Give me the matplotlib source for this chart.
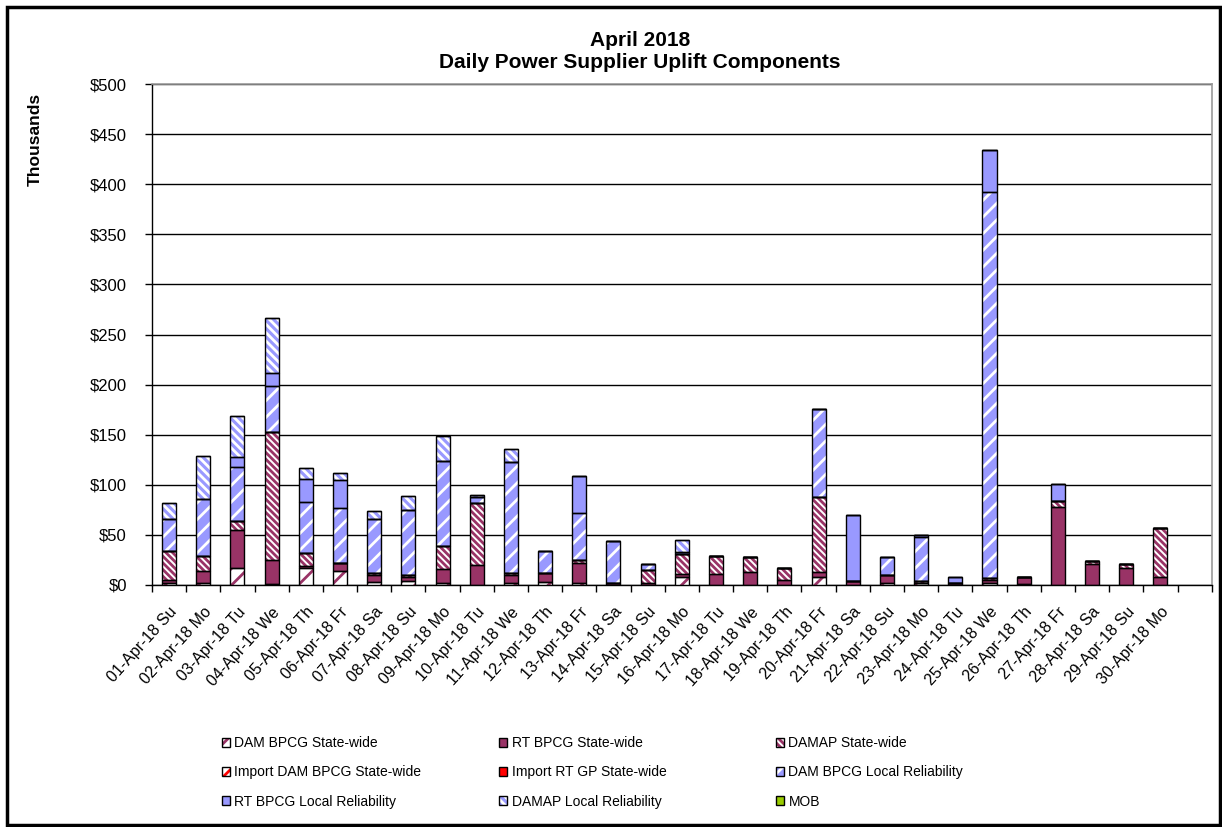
import numpy as np
import matplotlib
matplotlib.use("Agg")
import matplotlib.pyplot as plt
from matplotlib.patches import Rectangle

plt.rcParams['font.family'] = ['Liberation Sans', 'DejaVu Sans']
plt.rcParams['hatch.linewidth'] = 2.0

days = ["01-Apr-18 Su", "02-Apr-18 Mo", "03-Apr-18 Tu", "04-Apr-18 We", "05-Apr-18 Th",
        "06-Apr-18 Fr", "07-Apr-18 Sa", "08-Apr-18 Su", "09-Apr-18 Mo", "10-Apr-18 Tu",
        "11-Apr-18 We", "12-Apr-18 Th", "13-Apr-18 Fr", "14-Apr-18 Sa", "15-Apr-18 Su",
        "16-Apr-18 Mo", "17-Apr-18 Tu", "18-Apr-18 We", "19-Apr-18 Th", "20-Apr-18 Fr",
        "21-Apr-18 Sa", "22-Apr-18 Su", "23-Apr-18 Mo", "24-Apr-18 Tu", "25-Apr-18 We",
        "26-Apr-18 Th", "27-Apr-18 Fr", "28-Apr-18 Sa", "29-Apr-18 Su", "30-Apr-18 Mo"]

# values in $ thousands
dam_bpcg_sw = [2, 2.3, 17, 1, 16.7, 14.3, 3.3, 4, 2, 0, 2, 3.3, 2.3, 0, 0,
               7.7, 0, 0, 0, 8.3, 0, 2.3, 1.5, 0, 2, 1, 0, 0, 0, 0]
rt_bpcg_sw = [3, 12, 38, 24, 2.3, 7.4, 6.7, 4, 13.7, 20, 8, 8.4, 20, 2.3, 2.3,
              3, 11, 13, 5, 5, 4, 7.7, 0, 2.3, 3, 6.7, 77.7, 20.7, 16.7, 8.3]
damap_sw = [29, 15, 9, 128, 12.7, 0, 2.3, 2, 23.3, 62.3, 2.3, 0, 2.7, 0, 12.7,
            20, 18.3, 15.3, 12.3, 75, 0, 0, 2.8, 0, 2.3, 0, 6.6, 3.3, 4.3, 48.4]
import_dam_bpcg_sw = [0] * 30
import_rt_gp_sw = [0] * 30
dam_bpcg_lr = [32, 56.4, 54, 46, 51.6, 55, 53.4, 65, 84.3, 6, 110, 22.6, 47.3, 42, 6,
               0, 0, 0, 0, 87.4, 0, 18.3, 44, 0, 385.4, 0, 0, 0, 0, 0]
rt_bpcg_lr = [0, 0, 9.5, 13, 22.7, 28.3, 0, 0, 0, 0, 0, 0, 36, 0, 0,
              2.6, 0, 0, 0, 0, 66, 0, 1.7, 6, 41.6, 0, 16.4, 0, 0, 0]
damap_lr = [16, 43.3, 41.5, 54, 10.7, 6.7, 8.3, 14, 25.7, 1.7, 13.4, 0, 0, 0, 0,
            11.7, 0, 0, 0, 0, 0, 0, 0, 0, 0, 0, 0, 0, 0, 0]
mob = [0] * 30

series_names = ["DAM BPCG State-wide", "RT BPCG State-wide", "DAMAP State-wide",
                "Import DAM BPCG State-wide", "Import RT GP State-wide",
                "DAM BPCG Local Reliability", "RT BPCG Local Reliability",
                "DAMAP Local Reliability", "MOB"]
series_vals = [dam_bpcg_sw, rt_bpcg_sw, damap_sw, import_dam_bpcg_sw, import_rt_gp_sw,
               dam_bpcg_lr, rt_bpcg_lr, damap_lr, mob]

MAROON = "#993366"
BLUE = "#9999FF"
RED = "#FF0000"
GREEN = "#99CC00"
BS = "\\"
# (face, hatch, hatch colour)
styles = [
    ("white", "//", MAROON),
    (MAROON, None, None),
    ("white", BS * 5, MAROON),
    ("white", "//", RED),
    (RED, None, None),
    (BLUE, "//", "white"),
    (BLUE, None, None),
    (BLUE, BS * 4, "white"),
    (GREEN, None, None),
]

W, H = 1222, 827
fig = plt.figure(figsize=(W / 100, H / 100), dpi=100)
ax = fig.add_axes([152 / W, 1 - 585 / H, (1211.7 - 152) / W, (585 - 84) / H])

x = np.arange(len(days))
bw = 0.41
bottom = np.zeros(len(days))
handles = []
for name, vals, (fc, hatch, hc) in zip(series_names, series_vals, styles):
    v = np.array(vals, dtype=float)
    if hatch:
        fill = ax.bar(x, v, bw, bottom=bottom, color=fc, edgecolor=hc, hatch=hatch,
                      linewidth=0, zorder=3)
    else:
        fill = ax.bar(x, v, bw, bottom=bottom, color=fc, linewidth=0, zorder=3)
    outline = ax.bar(x, v, bw, bottom=bottom, fill=False, edgecolor="black",
                     linewidth=1.0, zorder=4)
    handles.append((fill, outline))
    bottom += v

ax.set_xlim(-0.5, len(days) - 0.5 + 1)
ax.set_ylim(0, 500)
yt = np.arange(0, 501, 50)
ax.set_yticks(yt)
ax.set_yticklabels([f"${v}" for v in yt], fontsize=12)
ax.tick_params(axis='y', direction='out', length=5, width=1, pad=13)
ax.set_xticks(x)
ax.set_xticklabels(days, rotation=48, ha='right', va='top', rotation_mode='anchor',
                   fontsize=11.5)
ax.set_xticks(np.arange(-0.5, len(days) + 1, 1), minor=True)
ax.tick_params(axis='x', which='major', length=0, pad=14)
ax.tick_params(axis='x', which='minor', direction='out', length=5, width=1)
ax.grid(axis='y', color='black', linewidth=1.0, zorder=0)
ax.set_axisbelow(True)
for s in ['top', 'right']:
    ax.spines[s].set_color('#999999')
    ax.spines[s].set_linewidth(1.2)
for s in ['left', 'bottom']:
    ax.spines[s].set_color('black')
    ax.spines[s].set_linewidth(1.0)

fig.text(640 / W, 1 - 40 / H, "April 2018", ha='center', va='center', fontsize=15,
         fontweight='bold')
fig.text(640 / W, 1 - 63 / H, "Daily Power Supplier Uplift Components", ha='center',
         va='center', fontsize=15, fontweight='bold')
fig.text(35 / W, 1 - 139 / H, "Thousands", rotation=90, ha='center', va='center',
         fontsize=12.5, fontweight='bold')

# legend: three columns placed row-wise
col_x = [222, 499, 776]
for c in range(3):
    idx = [c, c + 3, c + 6]
    fig.legend([handles[i] for i in idx], [series_names[i] for i in idx],
               loc='upper left', bbox_to_anchor=(col_x[c] / W, 1 - 736 / H),
               frameon=False, fontsize=10, handlelength=0.6, handleheight=0.6,
               handletextpad=0.3, labelspacing=1.1, borderpad=0, borderaxespad=0)

fig.patches.append(Rectangle((7 / W, 1 - 825 / H), (1220 - 7) / W, (825 - 7) / H,
                             transform=fig.transFigure, fill=False, edgecolor='black',
                             linewidth=2.5, zorder=10))

fig.savefig("out.png", dpi=100)
